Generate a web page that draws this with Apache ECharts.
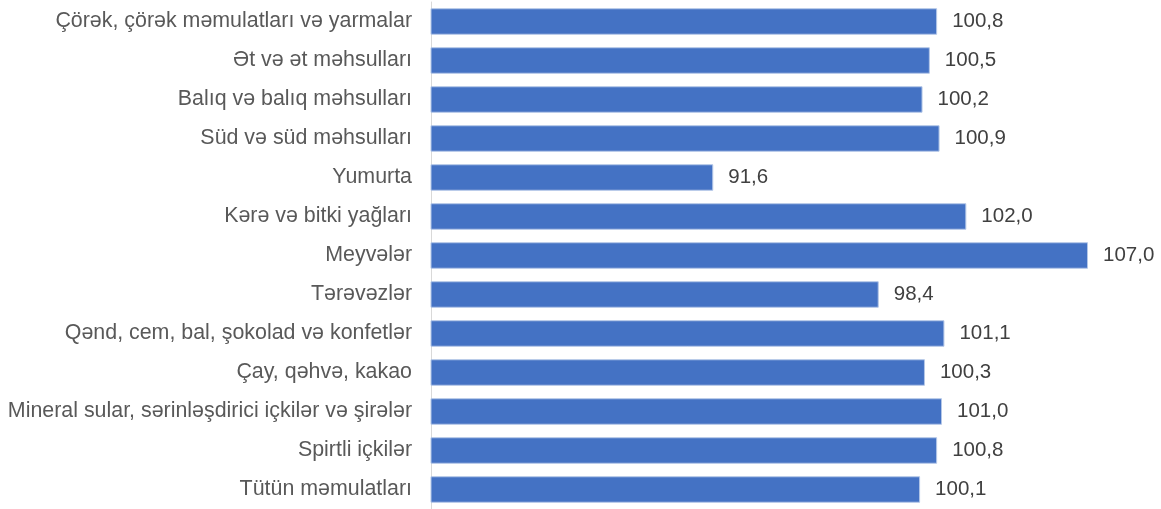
<!DOCTYPE html>
<html>
<head>
<meta charset="utf-8">
<script src="https://cdn.jsdelivr.net/npm/echarts@6/dist/echarts.min.js"></script>
<style>html,body{margin:0;padding:0;background:#fff}#c{width:1161px;height:509px}</style>
</head>
<body>
<div id="c"></div>
<script>
const categories = [
  "Çörək, çörək məmulatları və yarmalar",
  "Ət və ət məhsulları",
  "Balıq və balıq məhsulları",
  "Süd və süd məhsulları",
  "Yumurta",
  "Kərə və bitki yağları",
  "Meyvələr",
  "Tərəvəzlər",
  "Qənd, cem, bal, şokolad və konfetlər",
  "Çay, qəhvə, kakao",
  "Mineral sular, sərinləşdirici içkilər və şirələr",
  "Spirtli içkilər",
  "Tütün məmulatları"
];
const values = [100.8, 100.5, 100.2, 100.9, 91.6, 102.0, 107.0, 98.4, 101.1, 100.3, 101.0, 100.8, 100.1];
const axisMin = 80;
const axisMax = 110;

const chart = echarts.init(document.getElementById('c'), null, {renderer: 'canvas'});
chart.setOption({
  animation: false,
  backgroundColor: '#ffffff',
  grid: {left: 431, right: 0, top: 2, bottom: -4, containLabel: false},
  xAxis: {
    type: 'value', min: axisMin, max: axisMax, show: false
  },
  yAxis: {
    type: 'category', data: categories, inverse: true,
    axisLine: {show: true, lineStyle: {color: '#d9d9d9', width: 1}},
    axisTick: {show: false},
    axisLabel: {color: '#595959', fontFamily: 'Liberation Sans, Arial', fontSize: 21.4, margin: 19}
  },
  series: [{
    type: 'bar',
    data: values,
    barCategoryGap: '32%',
    itemStyle: {color: '#4472c4', borderColor: '#b4c7e7', borderWidth: 1},
    label: {
      show: true, position: 'right', distance: 15,
      color: '#404040', fontFamily: 'Liberation Sans, Arial', fontSize: 20.5,
      formatter: p => p.value.toFixed(1).replace('.', ',')
    }
  }]
});
</script>
</body>
</html>
